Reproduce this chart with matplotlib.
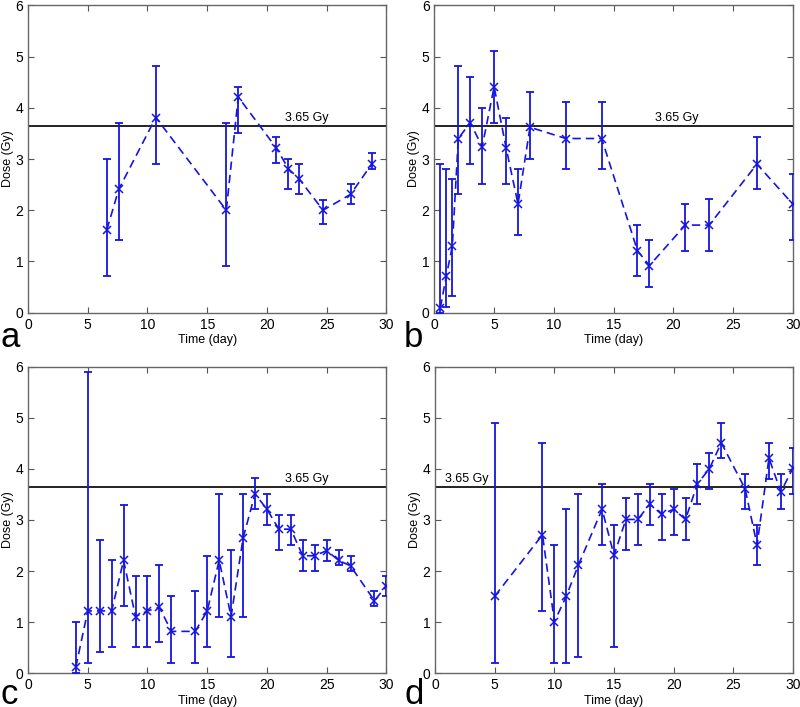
import numpy as np
import matplotlib
matplotlib.use("Agg")
import matplotlib.pyplot as plt

plt.rcParams['font.family'] = ['Liberation Sans', 'DejaVu Sans']

# Panel a
a_day = [6.6, 7.6, 10.7, 16.6, 17.6, 20.8, 21.8, 22.7, 24.7, 27.0, 28.8]
a_dose = [1.62, 2.41, 3.81, 2.0, 4.21, 3.21, 2.81, 2.61, 2.0, 2.31, 2.91]
a_lo = [0.72, 1.42, 2.91, 0.92, 3.51, 2.92, 2.42, 2.31, 1.73, 2.12, 2.81]
a_hi = [3.0, 3.71, 4.81, 3.71, 4.41, 3.42, 3.0, 2.91, 2.2, 2.52, 3.11]

# Panel b
b_day = [0.5, 1.0, 1.5, 2, 3, 4, 5, 6, 7, 8, 11, 14, 17, 18, 21, 23, 27, 30]
b_dose = [0.1, 0.72, 1.3, 3.4, 3.71, 3.24, 4.41, 3.22, 2.12, 3.62, 3.4, 3.4,
          1.21, 0.92, 1.71, 1.71, 2.9, 2.12]
b_lo = [0.0, 0.12, 0.32, 2.31, 2.91, 2.51, 3.71, 2.51, 1.51, 3.0, 2.81, 2.81,
        0.72, 0.51, 1.21, 1.21, 2.41, 1.42]
b_hi = [2.9, 2.8, 2.6, 4.81, 4.6, 4.0, 5.11, 3.81, 2.81, 4.31, 4.12, 4.12,
        1.71, 1.42, 2.12, 2.21, 3.42, 2.71]

# Panel c
c_day = [4, 5, 6, 7, 8, 9, 10, 11, 12, 14, 15, 16, 17, 18, 19, 20, 21, 22,
         23, 24, 25, 26, 27, 29, 30]
c_dose = [0.12, 1.22, 1.22, 1.22, 2.21, 1.11, 1.22, 1.29, 0.82, 0.82, 1.22,
          2.21, 1.11, 2.64, 3.51, 3.21, 2.82, 2.82, 2.3, 2.3, 2.4, 2.21, 2.1,
          1.42, 1.71]
c_lo = [0.0, 0.21, 0.42, 0.51, 1.31, 0.51, 0.51, 0.61, 0.21, 0.21, 0.51,
        1.11, 0.31, 1.11, 3.21, 2.91, 2.41, 2.51, 2.0, 2.0, 2.2, 2.11, 2.0,
        1.31, 1.51]
c_hi = [1.0, 5.9, 2.6, 2.21, 3.3, 1.9, 1.9, 2.11, 1.51, 1.61, 2.3, 3.51,
        2.41, 3.51, 3.82, 3.51, 3.1, 3.1, 2.6, 2.51, 2.6, 2.41, 2.3, 1.61, 1.9]

# Panel d
d_day = [5, 9, 10, 11, 12, 14, 15, 16, 17, 18, 19, 20, 21, 22, 23, 24, 26,
         27, 28, 29, 30]
d_dose = [1.51, 2.71, 1.01, 1.51, 2.11, 3.21, 2.31, 3.01, 3.01, 3.31, 3.11,
          3.21, 3.01, 3.71, 4.0, 4.51, 3.61, 2.51, 4.21, 3.55, 4.01]
d_lo = [0.21, 1.21, 0.21, 0.21, 0.31, 2.51, 0.51, 2.41, 2.51, 2.91, 2.61,
        2.71, 2.61, 3.31, 3.61, 4.21, 3.21, 2.11, 3.81, 3.21, 3.51]
d_hi = [4.9, 4.5, 2.51, 3.21, 3.51, 3.71, 2.91, 3.42, 3.51, 3.71, 3.51,
        3.61, 3.42, 4.1, 4.31, 4.9, 3.9, 2.91, 4.5, 3.9, 4.41]

threshold = 3.65
panels = [
    ("a", a_day, a_dose, a_lo, a_hi, 21.5),
    ("b", b_day, b_dose, b_lo, b_hi, 18.5),
    ("c", c_day, c_dose, c_lo, c_hi, 21.5),
    ("d", d_day, d_dose, d_lo, d_hi, 0.8),
]

W, H = 800, 707
fig = plt.figure(figsize=(W / 100, H / 100), dpi=100)
rects = [
    [0.035, 0.5577, 0.448, 0.4348],
    [0.543, 0.5577, 0.448, 0.4348],
    [0.035, 0.0477, 0.448, 0.4337],
    [0.544, 0.0477, 0.447, 0.4337],
]
# letter anchor (left, baseline) in pixels from top-left
letter_pos = [(0, 347), (404, 347), (0, 704), (404, 704)]

for rect, (lx, ly), (letter, day, dose, lo, hi, txt_x) in zip(rects, letter_pos, panels):
    ax = fig.add_axes(rect)
    day = np.array(day)
    dose = np.array(dose)
    yerr = [dose - np.array(lo), np.array(hi) - dose]
    ax.errorbar(day, dose, yerr=yerr, fmt='none', ecolor='#1515dd',
                elinewidth=1.3, capsize=3, capthick=1.3, zorder=3)
    ax.plot(day, dose, color='#1515dd', linestyle='--', dashes=(5, 3),
            marker='x', markersize=5.5, markeredgewidth=1.1, linewidth=1.2,
            zorder=4)
    ax.axhline(threshold, color='#222222', linewidth=1.4, zorder=2)
    ax.text(txt_x, threshold + 0.04, "3.65 Gy", fontsize=9, ha='left',
            va='bottom')

    ax.set_xlim(0, 30)
    ax.set_ylim(0, 6)
    ax.set_xticks(range(0, 31, 5))
    ax.set_yticks(range(0, 7))
    ax.tick_params(direction='in', top=True, right=True, labelsize=10,
                   length=4, color='#555555')
    for sp in ax.spines.values():
        sp.set_color('#666666')
        sp.set_linewidth(1.0)
    ax.set_xlabel("Time (day)", fontsize=9, labelpad=2)
    ax.set_ylabel("Dose (Gy)", fontsize=9, labelpad=1)
    fig.text(lx / W, 1 - ly / H, letter, fontsize=25, ha='left',
             va='baseline')

fig.savefig("out.png", dpi=100)
